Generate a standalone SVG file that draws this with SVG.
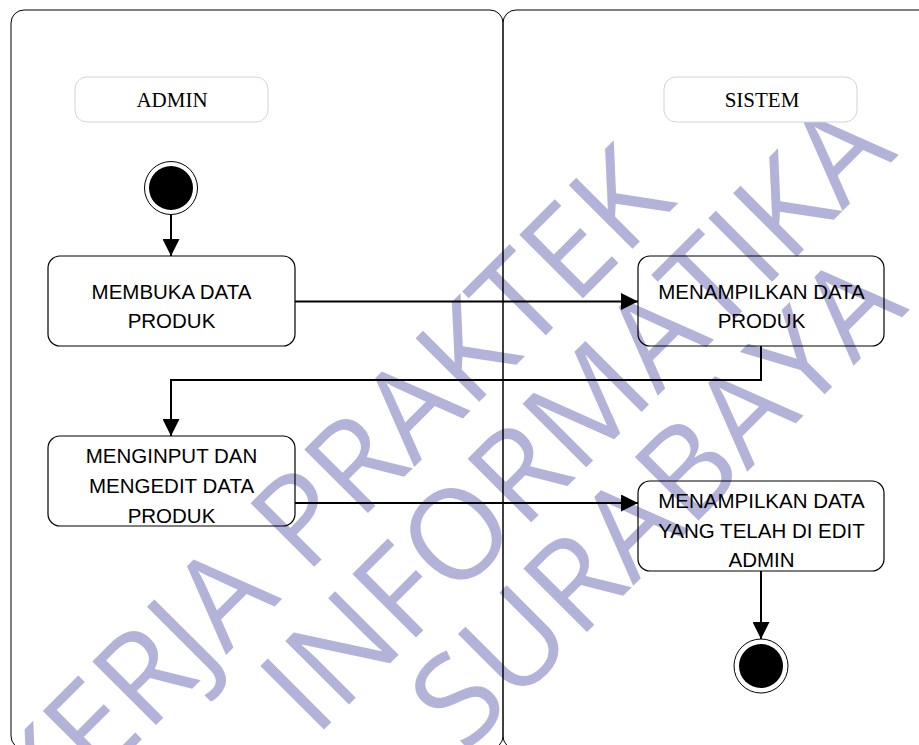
<svg xmlns="http://www.w3.org/2000/svg" width="919" height="745" viewBox="0 0 919 745">
  <style>
    .lane { fill: none; stroke: #000; stroke-width: 1; }
    .hdr { fill: #fff; stroke: #d4d4d4; stroke-width: 1; }
    .hdrtxt { font-family: "Liberation Serif", serif; font-size: 21px; fill: #000; text-anchor: middle; }
    .act { fill: none; stroke: #000; stroke-width: 1.2; }
    .acttxt { font-family: "Liberation Sans", Arial, sans-serif; font-size: 20.5px; fill: #000; text-anchor: middle; }
    .conn { fill: none; stroke: #000; stroke-width: 2; }
    .wm { font-family: "Open Sans", "Noto Sans", sans-serif; font-size: 126px; fill: #b3b3d9; }
  </style>
  <defs>
    <marker id="arrow" markerUnits="userSpaceOnUse" markerWidth="17" markerHeight="17" refX="17" refY="8.5" orient="auto">
      <path d="M0,0 L17,8.5 L0,17 Z" fill="#000"/>
    </marker>
  </defs>
  <rect width="919" height="745" fill="#fff"/>

  <g id="watermark" transform="rotate(-45)">
    <text class="wm" x="-562" y="623">KERJA PRAKTEK</text>
    <text class="wm" x="-299" y="745">INFORMATIKA</text>
    <text class="wm" x="-205" y="862">SURABAYA</text>
  </g>

  <g id="lanes">
    <rect class="lane" x="11" y="10" width="492" height="739" rx="13" ry="13"/>
    <rect class="lane" x="503" y="10" width="440" height="739" rx="13" ry="13"/>
  </g>

  <g id="lane-admin">
    <rect class="hdr" x="75" y="77" width="193" height="45" rx="12" ry="12"/>
    <text class="hdrtxt" x="172" y="107">ADMIN</text>
  </g>
  <g id="lane-sistem">
    <rect class="hdr" x="664" y="77" width="193" height="45" rx="12" ry="12"/>
    <text class="hdrtxt" x="762" y="107">SISTEM</text>
  </g>

  <g id="start">
    <circle cx="171" cy="188" r="26.5" fill="#fff" stroke="#000" stroke-width="1"/>
    <circle cx="171" cy="188" r="22" fill="#000"/>
  </g>

  <g id="membuka">
    <rect class="act" x="48" y="256" width="247" height="90" rx="12" ry="12"/>
    <text class="acttxt" x="171.5" y="298.5">MEMBUKA DATA</text>
    <text class="acttxt" x="171.5" y="328">PRODUK</text>
  </g>

  <g id="menampilkan1">
    <rect class="act" x="638" y="256" width="246" height="90" rx="12" ry="12"/>
    <text class="acttxt" x="761.5" y="298.5">MENAMPILKAN DATA</text>
    <text class="acttxt" x="761.5" y="328">PRODUK</text>
  </g>

  <g id="menginput">
    <rect class="act" x="48" y="436" width="247" height="90" rx="12" ry="12"/>
    <text class="acttxt" x="171.5" y="463">MENGINPUT DAN</text>
    <text class="acttxt" x="171.5" y="493">MENGEDIT DATA</text>
    <text class="acttxt" x="171.5" y="523">PRODUK</text>
  </g>

  <g id="menampilkan2">
    <rect class="act" x="638" y="481" width="246" height="90" rx="12" ry="12"/>
    <text class="acttxt" x="761.5" y="508">MENAMPILKAN DATA</text>
    <text class="acttxt" x="761.5" y="538">YANG TELAH DI EDIT</text>
    <text class="acttxt" x="761.5" y="567">ADMIN</text>
  </g>

  <g id="end">
    <circle cx="761" cy="666" r="27" fill="#fff" stroke="#000" stroke-width="1"/>
    <circle cx="761" cy="666" r="22" fill="#000"/>
  </g>

  <g id="connectors">
    <line class="conn" x1="171" y1="215" x2="171" y2="256" marker-end="url(#arrow)"/>
    <line class="conn" x1="295" y1="301.5" x2="638" y2="301.5" marker-end="url(#arrow)"/>
    <path class="conn" d="M761,346 V380 H171 V436" marker-end="url(#arrow)"/>
    <line class="conn" x1="295" y1="503" x2="638" y2="503" marker-end="url(#arrow)"/>
    <line class="conn" x1="761" y1="571" x2="761" y2="639" marker-end="url(#arrow)"/>
  </g>
</svg>
